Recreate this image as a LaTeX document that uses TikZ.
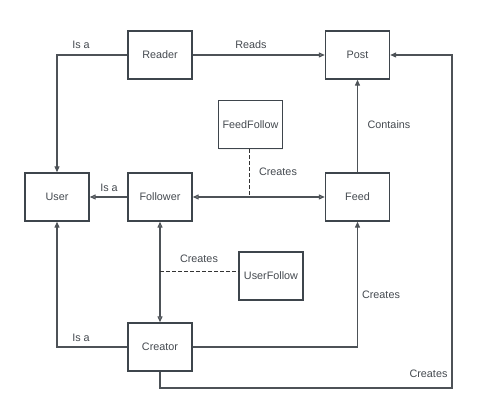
\documentclass[tikz,border=0pt]{standalone}
\usepackage{fontspec}
\setmainfont{Liberation Sans}
\usetikzlibrary{arrows.meta,shadows}
\definecolor{boxline}{HTML}{3E454C}
\definecolor{conline}{HTML}{4D5257}
\definecolor{txt}{HTML}{454A50}
\begin{document}
\begin{tikzpicture}[x=1pt,y=-1pt,
  entity/.style={draw=boxline, line width=1.4pt, fill=white, minimum width=64pt, minimum height=48pt,
    inner sep=0pt, text=txt, font=\fontsize{10.8}{13}\selectfont,
    drop shadow={shadow xshift=0.6pt, shadow yshift=-1.2pt, opacity=0.1}},
  conn/.style={draw=conline, line width=1.2pt},
  hollow/.style={conn, -{Triangle[open, length=6pt, width=5pt, fill=conline!45]}},
  hollowboth/.style={conn, {Triangle[open, length=6pt, width=5pt, fill=conline!45]}-{Triangle[open, length=6pt, width=5pt, fill=conline!45]}},
  solid/.style={conn, -{Triangle[length=6pt, width=5pt]}},
  dashline/.style={draw=black!80, line width=1pt, dash pattern=on 3.5pt off 2.5pt},
  lbl/.style={text=txt, font=\fontsize{10.8}{13}\selectfont, inner sep=0pt}]
  \fill[white] (0,0) rectangle (480,403);
  \useasboundingbox (0,0) rectangle (480,403);

  % entities
  \node[entity] (reader) at (160,55) {Reader};
  \node[entity] (post) at (357.5,55) {Post};
  \node[entity] (feedfollow) at (250.5,124.5) {FeedFollow};
  \node[entity] (user) at (57,197) {User};
  \node[entity] (follower) at (160,197) {Follower};
  \node[entity] (feed) at (357.5,197) {Feed};
  \node[entity] (userfollow) at (271,276) {UserFollow};
  \node[entity] (creator) at (160,347) {Creator};

  % relations
  \draw[solid] (reader.west) -| (user.north);
  \node[lbl] (isa1) at (81,45) {Is a};

  \draw[hollow] (reader.east) -- (post.west);
  \node[lbl] (reads) at (251,45) {Reads};

  \draw[solid] (feed.north) -- (post.south);
  \node[lbl] (contains) at (389,125) {Contains};

  \draw[hollow] (follower.west) -- (user.east);
  \node[lbl] (isa2) at (109,187.5) {Is a};

  \draw[hollowboth] (follower.east) -- (feed.west);
  \coordinate (ffjoin) at (249,197);
  \draw[dashline] (ffjoin |- feedfollow.south) -- (ffjoin);
  \node[lbl] (creates1) at (278,172) {Creates};

  \draw[hollowboth] (follower.south) -- (creator.north);
  \coordinate (ufjoin) at (160,272);
  \draw[dashline] (ufjoin) -- (ufjoin -| userfollow.west);
  \node[lbl] (creates2) at (199,259) {Creates};

  \draw[solid] (creator.west) -| (user.south);
  \node[lbl] (isa3) at (81,338) {Is a};

  \draw[solid] (creator.east) -| (feed.south);
  \node[lbl] (creates3) at (381,295) {Creates};

  \coordinate (loop) at (452,388);
  \draw[solid] (creator.south) |- (loop) |- (post.east);
  \node[lbl] (creates4) at (428.5,373.5) {Creates};
\end{tikzpicture}
\end{document}
